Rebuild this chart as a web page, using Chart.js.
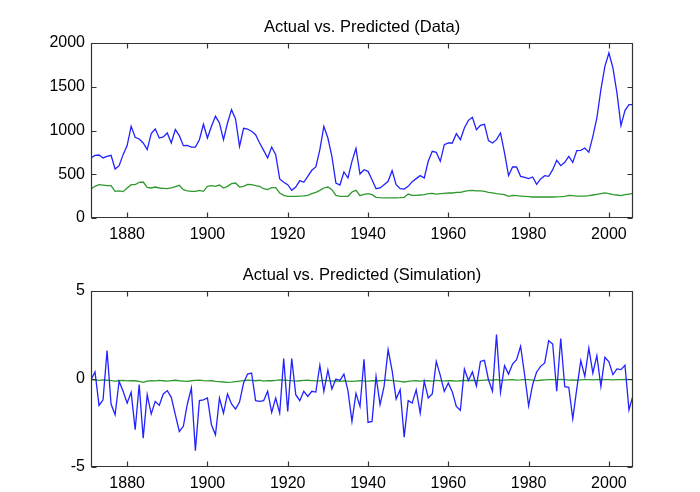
<!DOCTYPE html>
<html>
<head>
<meta charset="utf-8">
<script src="https://cdn.jsdelivr.net/npm/chart.js@4"></script>
<style>
  body { margin: 0; background: #fff; }
  .wrap { position: absolute; left: 0; width: 700px; height: 246px; }
  #top { top: 0; }
  #bottom { top: 246px; }
</style>
</head>
<body>
<div class="wrap" id="top"><canvas id="chartData"></canvas></div>
<div class="wrap" id="bottom"><canvas id="chartSim"></canvas></div>
<script>
// Years 1871 - 2006
const firstYear = 1871;
const lastYear = 2006;
const xTicks = [1880, 1900, 1920, 1940, 1960, 1980, 2000];
const dataTicks = [0, 500, 1000, 1500, 2000];
const simTicks = [-5, 0, 5];

// Actual vs. Predicted (Data)
const dataActual = [
  686, 716, 720, 686, 705, 716, 560, 598, 724, 827,
  1048, 922, 903, 857, 781, 964, 1017, 914, 926, 972,
  857, 1010, 941, 827, 831, 811, 811, 895, 1071, 914,
  1048, 1162, 1086, 895, 1086, 1238, 1132, 819, 1025, 1017,
  991, 952, 857, 773, 686, 811, 724, 446, 408, 381,
  316, 354, 427, 408, 476, 545, 583, 781, 1048, 914,
  705, 400, 377, 526, 457, 648, 796, 503, 552, 533,
  438, 335, 343, 381, 419, 541, 381, 335, 331, 362,
  415, 450, 484, 457, 648, 762, 751, 648, 838, 857,
  857, 964, 895, 1029, 1116, 1151, 1010, 1060, 1071, 884,
  857, 895, 972, 743, 484, 583, 583, 476, 465, 450,
  469, 385, 446, 484, 476, 552, 659, 598, 636, 705,
  636, 770, 773, 800, 751, 933, 1143, 1467, 1734, 1886,
  1715, 1429, 1055, 1227, 1295, 1295
];
const dataPredicted = [
  331, 362, 381, 375, 370, 370, 305, 309, 301, 343,
  381, 381, 408, 411, 351, 343, 354, 343, 339, 335,
  343, 358, 373, 324, 309, 305, 305, 316, 305, 362,
  370, 362, 377, 343, 362, 392, 400, 354, 362, 385,
  381, 370, 362, 335, 324, 347, 347, 286, 259, 248,
  248, 248, 250, 252, 259, 278, 293, 316, 343, 354,
  324, 259, 248, 248, 248, 297, 316, 255, 270, 278,
  267, 236, 232, 230, 230, 230, 230, 232, 236, 274,
  259, 259, 263, 267, 278, 282, 274, 278, 282, 286,
  286, 293, 293, 305, 312, 316, 309, 309, 305, 293,
  286, 278, 274, 267, 248, 259, 255, 251, 248, 244,
  240, 240, 240, 240, 240, 240, 242, 244, 248, 259,
  255, 251, 251, 251, 255, 263, 270, 278, 286, 278,
  267, 263, 255, 267, 274, 282
];

// Actual vs. Predicted (Simulation)
const simActual = [
  -0.04, 0.4, -1.5, -1.18, 1.61, -1.42, -2.03, -0.13, -0.7, -1.37,
  -0.76, -2.88, -0.32, -3.36, -0.89, -1.99, -1.27, -1.5, -0.85, -0.66,
  -1.04, -2.03, -2.98, -2.69, -1.42, -0.51, -4.08, -1.23, -1.18, -1.08,
  -2.6, -3.17, -1.08, -1.94, -0.85, -1.42, -1.71, -1.31, -0.23, 0.28,
  0.34, -1.23, -1.27, -1.23, -0.7, -1.9, -1.08, -1.94, 1.16, -1.84,
  1.16, -0.89, -1.23, -0.7, -0.99, -0.7, -0.74, 0.78, -0.7, 0.51,
  -0.57, 0.0, -0.08, 0.28, -0.66, -2.41, -0.82, -1.56, 1.12, -2.47,
  -2.41, 0.15, -1.46, -0.42, 1.67, 0.47, -1.14, -0.61, -3.3, -1.23,
  -1.37, -0.61, -1.94, -0.13, -1.08, -0.85, 1.0, 0.21, -0.7, -0.23,
  -0.74, -1.56, -1.78, 0.57, -0.09, 0.4, -0.4, 1.0, 1.06, -0.04,
  -0.7, 2.52, -0.76, 0.76, 0.28, 0.85, 1.1, 1.86, 0.25, -1.52,
  -0.32, 0.4, 0.72, 0.91, 2.18, 1.99, -0.7, 2.3, -0.44, -0.47,
  -2.26, -0.55, 1.04, 0.15, 1.76, 0.34, 1.33, -0.42, 1.23, 0.97,
  0.25, 0.57, 0.53, 0.78, -1.75, -0.93
];
const simPredicted = [
  -0.04, -0.06, -0.08, -0.05, -0.07, -0.09, -0.12, -0.1, -0.08, -0.11,
  -0.09, -0.1, -0.13, -0.19, -0.12, -0.1, -0.11, -0.08, -0.1, -0.12,
  -0.09, -0.07, -0.1, -0.12, -0.14, -0.1, -0.08, -0.06, -0.09, -0.11,
  -0.1, -0.13, -0.15, -0.17, -0.19, -0.18, -0.15, -0.12, -0.09, -0.06,
  -0.08, -0.1, -0.07, -0.12, -0.09, -0.1, -0.08, -0.05, -0.06, -0.08,
  -0.09, -0.12, -0.1, -0.08, -0.07, -0.09, -0.11, -0.1, -0.08, -0.09,
  -0.12, -0.1, -0.13, -0.11, -0.12, -0.14, -0.12, -0.1, -0.11, -0.12,
  -0.1, -0.09, -0.1, -0.08, -0.06, -0.09, -0.11, -0.14, -0.17, -0.13,
  -0.11, -0.1, -0.12, -0.09, -0.1, -0.12, -0.08, -0.1, -0.11, -0.09,
  -0.1, -0.12, -0.1, -0.08, -0.09, -0.07, -0.1, -0.08, -0.06, -0.05,
  -0.07, -0.04, -0.08, -0.06, -0.05, -0.04, -0.06, -0.05, -0.03, -0.04,
  -0.06, -0.09, -0.07, -0.05, -0.04, -0.03, -0.05, -0.02, -0.04, -0.06,
  -0.05, -0.07, -0.05, -0.04, -0.03, -0.05, -0.03, -0.02, -0.04, -0.03,
  -0.05, -0.03, -0.04, -0.02, -0.04, -0.05
];

const FONT = "'Liberation Sans', Arial, Helvetica, sans-serif";
const BLUE = '#2222ff';
const GREEN = '#2e9a2e';

function toPoints(values) {
  return values.map((v, i) => ({ x: firstYear + i, y: v }));
}

// MATLAB-like box with inward ticks and a title above the axes
const matlabFrame = {
  id: 'matlabFrame',
  afterDraw(chart, args, opts) {
    const { ctx, chartArea: a, scales } = chart;
    const L = Math.round(a.left) + 0.5, R = Math.round(a.right) - 0.5;
    const T = Math.round(a.top) + 0.5, B = Math.round(a.bottom) - 0.5;
    ctx.save();
    ctx.strokeStyle = '#333';
    ctx.lineWidth = 1.2;
    ctx.beginPath();
    ctx.rect(L, T, R - L, B - T);
    scales.x.ticks.forEach(t => {
      const px = Math.round(scales.x.getPixelForValue(t.value)) + 0.5;
      ctx.moveTo(px, B); ctx.lineTo(px, B - 5);
      ctx.moveTo(px, T); ctx.lineTo(px, T + 5);
    });
    scales.y.ticks.forEach(t => {
      const py = Math.round(scales.y.getPixelForValue(t.value)) + 0.5;
      ctx.moveTo(L, py); ctx.lineTo(L + 5, py);
      ctx.moveTo(R, py); ctx.lineTo(R - 5, py);
    });
    ctx.stroke();
    ctx.fillStyle = '#000';
    ctx.font = '16.5px ' + FONT;
    ctx.textAlign = 'center';
    ctx.textBaseline = 'alphabetic';
    ctx.fillText(opts.title, (a.left + a.right) / 2, a.top - 11.5);
    ctx.restore();
  }
};

function makeChart(id, actual, predicted, yMin, yMax, yTicks, title, pad, xHeight) {
  const ctx = document.getElementById(id).getContext('2d');
  return new Chart(ctx, {
    type: 'line',
    data: {
      datasets: [
        { data: toPoints(actual), borderColor: BLUE, borderWidth: 1.3, pointRadius: 0, tension: 0 },
        { data: toPoints(predicted), borderColor: GREEN, borderWidth: 1.3, pointRadius: 0, tension: 0 }
      ]
    },
    options: {
      responsive: true,
      maintainAspectRatio: false,
      animation: false,
      layout: { padding: pad },
      plugins: {
        legend: { display: false },
        tooltip: { enabled: false },
        matlabFrame: { title: title }
      },
      scales: {
        x: {
          type: 'linear',
          min: firstYear,
          max: lastYear,
          grid: { display: false, drawTicks: false },
          border: { display: false },
          afterBuildTicks: s => { s.ticks = xTicks.map(v => ({ value: v })); },
          afterFit: s => { s.height = xHeight; },
          ticks: { color: '#000', padding: 7, maxRotation: 0, font: { size: 16, family: FONT }, callback: v => String(v) }
        },
        y: {
          min: yMin,
          max: yMax,
          grid: { display: false, drawTicks: false },
          border: { display: false },
          afterBuildTicks: s => { s.ticks = yTicks.map(v => ({ value: v })); },
          afterFit: s => { s.width = 91; },
          ticks: { color: '#000', padding: 6, font: { size: 16, family: FONT }, callback: v => String(v) }
        }
      }
    },
    plugins: [matlabFrame]
  });
}

makeChart('chartData', dataActual, dataPredicted, 0, 2000, dataTicks,
  'Actual vs. Predicted (Data)', { left: 0, right: 67, top: 43, bottom: 0 }, 28);
makeChart('chartSim', simActual, simPredicted, -5, 5, simTicks,
  'Actual vs. Predicted (Simulation)', { left: 0, right: 67, top: 45, bottom: 0 }, 25);
</script>
</body>
</html>
